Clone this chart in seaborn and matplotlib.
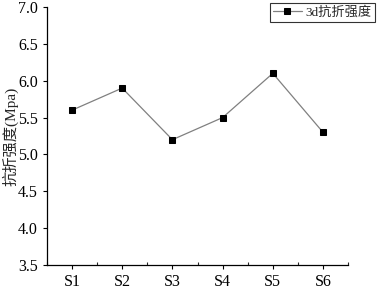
import seaborn as sns
import matplotlib.pyplot as plt
import pandas as pd
from matplotlib.ticker import MultipleLocator

samples = ["S1", "S2", "S3", "S4", "S5", "S6"]
strength_3d = [5.6, 5.9, 5.2, 5.5, 6.1, 5.3]
series_label = "3d抗折强度"

df = pd.DataFrame({"sample": samples, "strength": strength_3d})

sns.set_style("white")
plt.rcParams["font.family"] = ["Liberation Serif", "Noto Sans CJK SC"]
plt.rcParams["axes.unicode_minus"] = False

fig = plt.figure(figsize=(3.78, 2.9), dpi=100)
ax = fig.add_axes([0.124, 0.086, 0.797, 0.89])

sns.lineplot(
    data=df,
    x="sample",
    y="strength",
    sort=False,
    color="#808080",
    linewidth=0.9,
    marker="s",
    markersize=4.5,
    markerfacecolor="black",
    markeredgecolor="black",
    label=series_label,
    ax=ax,
)

ax.set_xlim(-0.5, 5.5)
ax.set_ylim(3.5, 7.0)
ax.yaxis.set_major_locator(MultipleLocator(0.5))
ax.xaxis.set_minor_locator(MultipleLocator(0.5))

for side in ["top", "right"]:
    ax.spines[side].set_visible(False)
for side in ["left", "bottom"]:
    ax.spines[side].set_color("black")
    ax.spines[side].set_linewidth(0.9)

ax.tick_params(axis="both", which="major", direction="out", length=3,
               width=0.8, labelsize=11.5, colors="black", bottom=True, left=True)
ax.tick_params(axis="x", which="minor", direction="in", length=2.5, width=0.8,
               bottom=True)
ax.set_xlabel("")
ax.set_ylabel("抗折强度(Mpa)", fontsize=11)
ax.yaxis.set_label_coords(-0.093, 0.5)

leg = ax.legend(
    loc="upper right",
    bbox_to_anchor=(1.09, 1.016),
    frameon=True,
    fancybox=False,
    fontsize=9.5,
    handlelength=2.2,
    handletextpad=0.3,
    borderpad=0.25,
    borderaxespad=0.0,
)
leg.get_frame().set_edgecolor("black")
leg.get_frame().set_linewidth(0.8)

fig.savefig("out.png", dpi=100)
